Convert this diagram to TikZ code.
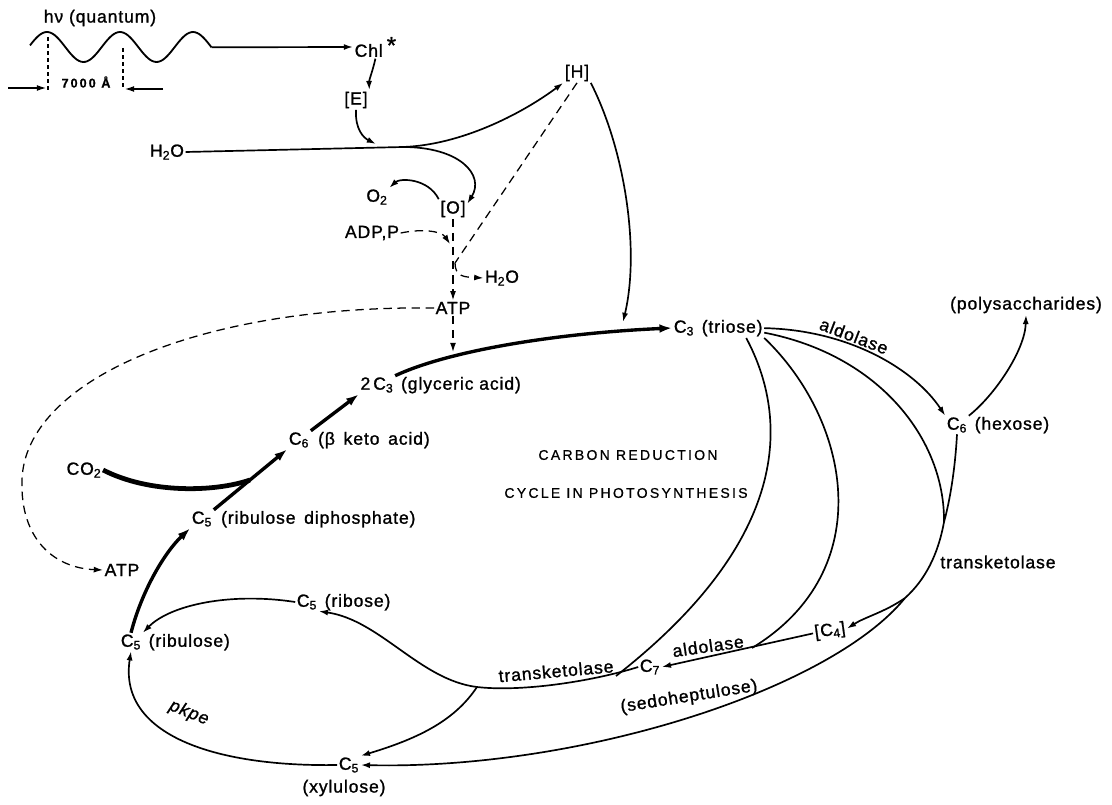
\documentclass[tikz,border=0pt]{standalone}
\usepackage{fontspec}
\setmainfont{Liberation Sans}[LetterSpace=5,FakeBold=1.2]
\newfontfamily\spacedfont{Liberation Sans}[LetterSpace=16,FakeBold=0.8]
\usetikzlibrary{positioning,arrows.meta}

\tikzset{
  >={Latex[length=2.3mm,width=1.5mm]},
  chem/.style={inner sep=1pt,font=\fontsize{12.5}{14}\selectfont},
  flow/.style={->,line width=1.2pt},
  line/.style={line width=1.2pt},
  mainflow/.style={-{Latex[length=3.2mm,width=2.2mm]},line width=2.4pt},
  dashflow/.style={->,line width=0.9pt,dash pattern=on 6pt off 4pt},
}

\begin{document}
\begin{tikzpicture}[x=0.25mm,y=-0.25mm]
      \useasboundingbox (0,0) rectangle (1112,804);

      % Nodes
      \begin{scope}[every node/.style={chem}]
        \node (quantum) at (100,18) {hν (quantum)};
        \node[font=\spacedfont\bfseries\fontsize{9}{10}\selectfont] (lambda) at (86,82) {7000 Å};
        \node[anchor=west] (chl) at (353,47) {Chl\raisebox{0.35ex}{\fontsize{17}{17}\selectfont\,*}};
        \node (enz) at (356,100) {[E]};
        \node (hyd) at (577,73) {[H]};
        \node (water) at (167,152) {H\textsubscript{2}O};
        \node (oxytwo) at (377,197) {O\textsubscript{2}};
        \node (oxy) at (453,209) {[O]};
        \node (adp) at (372,233) {ADP,P};
        \node (waterb) at (502,278) {H\textsubscript{2}O};
        \node (atp) at (453,308) {ATP};

        \node (pga) at (377,385) {2\,C\textsubscript{3}};
        \node[base right=3pt of pga] (pganame) {(glyceric acid)};
        \node (triose) at (684,328) {C\textsubscript{3}};
        \node[base right=3pt of triose] (triosename) {(triose)};
        \node (hexose) at (957,425) {C\textsubscript{6}};
        \node[base right=3pt of hexose] (hexosename) {(hexose)};
        \node (poly) at (1026,305) {(polysaccharides)};
        \node (keto) at (299,440) {C\textsubscript{6}};
        \node[base right=4pt of keto] (ketoname) {(β\, keto\, acid)};
        \node (cotwo) at (84,470) {CO\textsubscript{2}};
        \node (rudp) at (202,519) {C\textsubscript{5}};
        \node[base right=4pt of rudp] (rudpname) {(ribulose\, diphosphate)};
        \node (atpb) at (122,570) {ATP};
        \node (ribulose) at (131,642) {C\textsubscript{5}};
        \node[base right=3pt of ribulose] (ribulosename) {(ribulose)};
        \node (ribose) at (307,602) {C\textsubscript{5}};
        \node[base right=3pt of ribose] (ribosename) {(ribose)};
        \node (xylulose) at (349,765) {C\textsubscript{5}};
        \node (xylname) at (344,788) {(xylulose)};
        \node (sedo) at (650,667) {C\textsubscript{7}};
        \node[rotate=9] (sedoname) at (689,697) {(sedoheptulose)};
        \node[rotate=8] (tetrose) at (830,631) {[C\textsubscript{4}]};

        \node[rotate=-21] (aldoltop) at (854,336) {aldolase};
        \node[rotate=8] (aldolbot) at (708,646) {aldolase};
        \node[rotate=5] (transbot) at (556,671) {transketolase};
        \node (transright) at (998,562) {transketolase};
        \node[rotate=-22,font=\fontsize{12.5}{14}\selectfont\itshape] (pkpe) at (189,713) {pkpe};
        \node[font=\spacedfont\fontsize{10}{12}\selectfont] (cyclea) at (628,455) {CARBON REDUCTION};
        \node[font=\spacedfont\fontsize{10}{12}\selectfont] (cycleb) at (626,493) {CYCLE IN PHOTOSYNTHESIS};
      \end{scope}

      % Junctions
      \coordinate (waveend) at (211.5,47.3);
      \coordinate (markl) at (46,88);
      \coordinate (markr) at (125,89);
      \coordinate (arrl) at (8,88);
      \coordinate (arrr) at (163,89);
      \coordinate (ehit) at (376,144);
      \coordinate (split) at (403,147);
      \coordinate (adphit) at (450,244);
      \coordinate (pivot) at (455,263);
      \coordinate (hhit) at (623,322);
      \coordinate (atphit) at (453,352);
      \coordinate (cojoin) at (250,480);
      \coordinate (junction) at (477,687);
      \coordinate (tkmerge) at (616,676);
      \coordinate (sedomerge) at (752,648);
      \coordinate (hexmerge) at (944,522);
      \coordinate (tkright) at (905,598);

      % Light
      \draw[line width=1.3pt,domain=30:211.5,samples=90,smooth] plot (\x,{47-15*cos((\x-47)/73*360)});
      \draw[line width=0.8pt,dash pattern=on 3pt off 2pt] (48,37) -- (48,90);
      \draw[line width=0.8pt,dash pattern=on 3pt off 2pt] (123,48) -- (123,90);
      \draw[->,line width=0.8pt] (arrl) -- (markl);
      \draw[->,line width=0.8pt] (arrr) -- (markr);

      % Edges
      \begin{scope}
        \draw[flow] (waveend) -- (chl.west);
        \draw[flow] (chl.south) .. controls (373,70) and (369,80) .. (enz.north east);
        \draw[flow] (enz.south) .. controls (355,130) and (364,138) .. (ehit);
        \draw[line] (water.east) -- (split);
        \draw[flow] (split) .. controls (460,145) and (520,115) .. (hyd.south west);
        \draw[flow] (split) .. controls (460,147) and (485,175) .. (oxy.20);
        \draw[flow] (oxy.north west) .. controls (428,178) and (400,178) .. (oxytwo.north east);
        \draw[dashflow] (adp.east) .. controls (425,228) and (442,232) .. (adphit);
        \draw[dashflow] (oxy.south) -- (atp.north);
        \draw[dashflow,-] (hyd.south) -- (pivot);
        \draw[dashflow] (pivot) .. controls (455,277) and (465,277) .. (waterb.west);
        \draw[flow] (hyd.south east) .. controls (625,150) and (640,250) .. (hhit);
        \draw[dashflow] (atp.south) -- (atphit);
        \draw[dashflow] (atp.west) .. controls (200,305) and (25,380) .. (22,480)
          .. controls (20,540) and (55,568) .. (atpb.west);

        \draw[mainflow] (pga.north east) .. controls (450,350) and (560,333) .. (triose.west);
        \draw[mainflow] (keto.north east) -- (pga.south west);
        \draw[mainflow] (rudp.north east) -- (keto.south west);
        \draw[line width=3.4pt] (cotwo.east) .. controls (150,494) and (215,492) .. (cojoin);
        \draw[mainflow] (ribulose.north) .. controls (142,590) and (165,552) .. (rudp.south west);

        \draw[flow] (triosename.east) .. controls (850,330) and (915,370) .. (hexose.north west);
        \draw[flow] (hexose.north east) .. controls (995,395) and (1025,350) .. (poly.south);
        \draw[line] (triosename.-35) .. controls (790,420) and (790,540) .. (tkmerge);
        \draw[line] (triosename.-17) .. controls (850,420) and (880,570) .. (sedomerge);
        \draw[line] (triosename.-8) .. controls (880,355) and (945,440) .. (hexmerge);
        \draw[line] (hexose.south) .. controls (955,470) and (950,500) .. (hexmerge);
        \draw[line] (hexmerge) .. controls (938,555) and (925,580) .. (tkright);
        \draw[flow] (tkright) .. controls (885,612) and (865,617) .. (tetrose.east);
        \draw[flow] (tkright) .. controls (830,690) and (580,770) .. (xylulose.east);
        \draw[flow] (tetrose.west) -- (sedo.east);
        \draw[line] (sedo.west) .. controls (590,682) and (520,692) .. (junction);
        \draw[flow] (junction) .. controls (420,680) and (380,620) .. (ribose.south east);
        \draw[flow] (junction) .. controls (455,720) and (420,738) .. (xylulose.north east);
        \draw[flow] (ribose.west) .. controls (230,592) and (170,605) .. (ribulose.north east);
        \draw[flow] (xylulose.west) .. controls (215,767) and (118,735) .. (ribulose.south);
      \end{scope}

    \end{tikzpicture}
\end{document}
